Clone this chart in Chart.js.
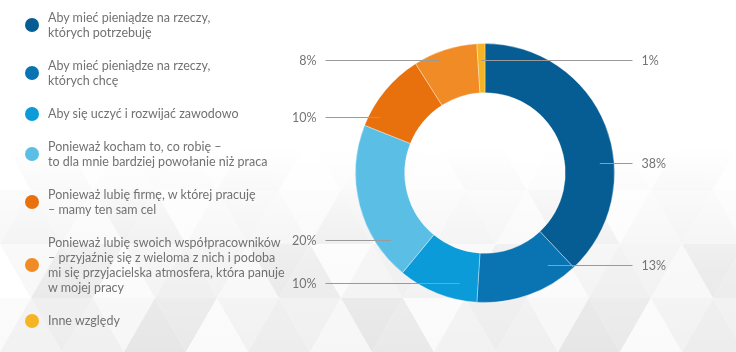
<!DOCTYPE html>
<html>
<head>
<meta charset="utf-8">
<script src="https://cdn.jsdelivr.net/npm/chart.js@4"></script>
<style>
  html, body { margin: 0; padding: 0; background: #fff; }
  #wrap { position: relative; width: 736px; height: 352px; overflow: hidden; font-family: Lato, "Open Sans", sans-serif; }
  #bg, #chart { position: absolute; left: 0; top: 0; }
  #legend { position: absolute; left: 25px; top: 10px; margin: 0; padding: 0; list-style: none; }
  #legend li { display: flex; align-items: center; margin-bottom: 18px; }
  #legend .dot { width: 14px; height: 14px; border-radius: 50%; flex: none; margin-right: 9px; }
  #legend .txt { font-size: 12.5px; line-height: 15px; color: #727272; white-space: pre; }
</style>
</head>
<body>
<div id="wrap">
  <svg id="bg" width="736" height="352"></svg>
  <canvas id="chart" width="736" height="352"></canvas>
  <ul id="legend"></ul>
</div>
<script>
// data
var labels = [
  'Aby mieć pieniądze na rzeczy,\nktórych potrzebuję',
  'Aby mieć pieniądze na rzeczy,\nktórych chcę',
  'Aby się uczyć i rozwijać zawodowo',
  'Ponieważ kocham to, co robię –\nto dla mnie bardziej powołanie niż praca',
  'Ponieważ lubię firmę, w której pracuję\n– mamy ten sam cel',
  'Ponieważ lubię swoich współpracowników\n– przyjaźnię się z wieloma z nich i podoba\nmi się przyjacielska atmosfera, która panuje\nw mojej pracy',
  'Inne względy'
];
var values = [38, 13, 10, 20, 10, 8, 1];
var colors = ['#065d93', '#0a74b3', '#0a9bd8', '#5bbfe5', '#e8710e', '#f08b25', '#f5b424'];

// where the leader line touches each slice (fraction along slice, fraction of radius) and side of label
var anchorPos = [0.62, 0.19, 0.26, 0.21, 0.18, 0.37, 0.5];
var anchorRad = [0.89, 0.86, 0.87, 0.89, 0.92, 0.94, 0.87];
var labelSide = ['r', 'r', 'l', 'l', 'l', 'l', 'r'];

// faint triangle background
(function () {
  var svg = document.getElementById('bg');
  var shades = ['#f1f1f1', '#e8e8e8', '#f6f6f6', '#ececec', '#fafafa', '#e5e5e5', '#efefef'];
  var w = 62, h = 54, out = '';
  for (var r = 0; r < 5; r++) {
    for (var c = -1; c < 26; c++) {
      var y0 = 352 - (r + 1) * h, y1 = y0 + h;
      var x0 = c * w / 2 + (r % 2 ? w / 2 : 0);
      var up = (c % 2 === 0);
      var pts = up ? [x0, y1, x0 + w / 2, y0, x0 + w, y1] : [x0, y0, x0 + w, y0, x0 + w / 2, y1];
      out += '<polygon points="' + pts.join(',') + '" fill="' + shades[(r * 5 + c * 3 + 70) % shades.length] + '"/>';
    }
  }
  out += '<defs><linearGradient id="fade" x1="0" y1="0" x2="0" y2="1">' +
    '<stop offset="0" stop-color="#fff" stop-opacity="1"/>' +
    '<stop offset="0.42" stop-color="#fff" stop-opacity="1"/>' +
    '<stop offset="0.75" stop-color="#fff" stop-opacity="0.3"/>' +
    '<stop offset="1" stop-color="#fff" stop-opacity="0.05"/></linearGradient></defs>' +
    '<rect x="0" y="0" width="736" height="352" fill="url(#fade)"/>';
  svg.innerHTML = out;
})();

// html legend
var ul = document.getElementById('legend');
labels.forEach(function (t, i) {
  var li = document.createElement('li');
  li.innerHTML = '<span class="dot" style="background:' + colors[i] + '"></span><span class="txt"></span>';
  li.querySelector('.txt').textContent = t;
  ul.appendChild(li);
});

// leader lines + percentage labels
var leaderPlugin = {
  id: 'leaders',
  afterDatasetsDraw: function (chart) {
    var ctx = chart.ctx;
    var meta = chart.getDatasetMeta(0);
    ctx.save();
    ctx.font = '12.5px Lato, "Open Sans", sans-serif';
    ctx.textBaseline = 'middle';
    meta.data.forEach(function (arc, i) {
      var p = arc.getProps(['x', 'y', 'startAngle', 'endAngle', 'outerRadius'], true);
      var a = p.startAngle + anchorPos[i] * (p.endAngle - p.startAngle);
      var r = p.outerRadius * anchorRad[i];
      var ax = p.x + r * Math.cos(a);
      var ay = Math.round(p.y + r * Math.sin(a)) + 0.5;
      var right = labelSide[i] === 'r';
      var lx = right ? p.x + p.outerRadius + 18 : p.x - p.outerRadius - 30;
      ctx.strokeStyle = '#9a9a9a';
      ctx.lineWidth = 1;
      ctx.beginPath();
      ctx.moveTo(ax, ay);
      ctx.lineTo(lx, ay);
      ctx.stroke();
      ctx.fillStyle = '#747474';
      ctx.textAlign = right ? 'left' : 'right';
      ctx.fillText(values[i] + '%', right ? lx + 9 : lx - 9, ay);
    });
    ctx.restore();
  }
};

new Chart(document.getElementById('chart'), {
  type: 'doughnut',
  data: {
    labels: labels,
    datasets: [{
      data: values,
      backgroundColor: colors,
      borderColor: 'rgba(255,255,255,0.35)',
      borderWidth: 1
    }]
  },
  options: {
    responsive: false,
    animation: false,
    cutout: '62%',
    layout: { padding: { left: 355, right: 121, top: 43, bottom: 49 } },
    plugins: {
      legend: { display: false },
      tooltip: { enabled: false }
    }
  },
  plugins: [leaderPlugin]
});
</script>
</body>
</html>
